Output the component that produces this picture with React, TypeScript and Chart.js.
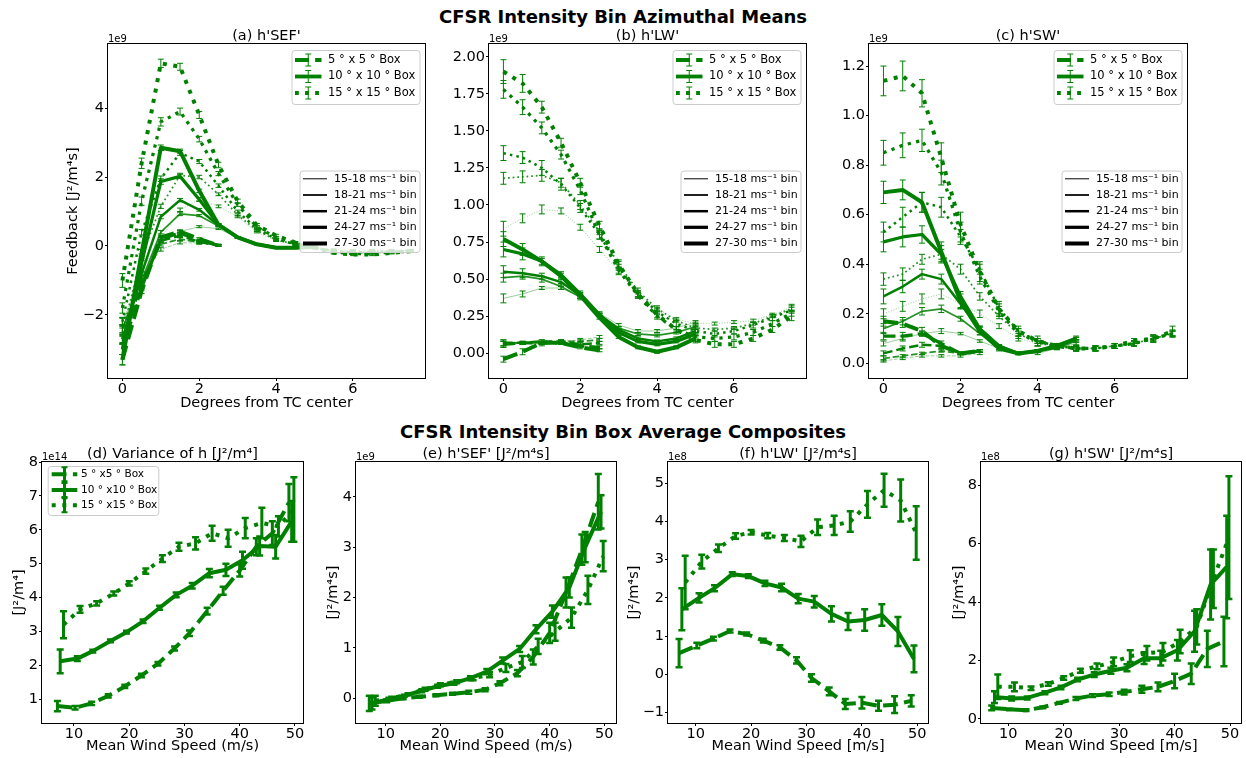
import React, { useEffect, useRef } from 'react';
import { Chart, registerables } from 'chart.js';

Chart.register(...registerables);

const FONT = 'DejaVu Sans';
const GREEN = '#008000';
const GREEN_RGB = '0,128,0';

// ---------------- shared x positions / labels ----------------
const degX5 = [0, 0.5, 1, 1.5, 2, 2.5];
const degX10 = [0, 0.5, 1, 1.5, 2, 2.5, 3, 3.5, 4, 4.5, 5];
const degX15 = [0, 0.5, 1, 1.5, 2, 2.5, 3, 3.5, 4, 4.5, 5, 5.5, 6, 6.5, 7, 7.5];

const windX5 = [7.0, 10.2, 13.2, 16.2, 19.2, 22.2, 25.2, 28.2, 30.9, 34.1, 37.0, 40.0, 43.0, 45.9, 48.9];
const windX10 = [7.5, 10.6, 13.4, 16.6, 19.5, 22.5, 25.5, 28.5, 31.4, 34.5, 37.5, 40.5, 43.6, 46.5, 49.4];
const windX15 = [8.1, 11.1, 14.1, 17.2, 20.0, 23.0, 26.0, 29.0, 32.0, 35.0, 37.9, 41.0, 44.0, 47.0, 49.8];

const binLabels = ['15-18 ms⁻¹ bin', '18-21 ms⁻¹ bin', '21-24 ms⁻¹ bin', '24-27 ms⁻¹ bin', '27-30 ms⁻¹ bin'];
const boxLabels = ['5 ° x 5 ° Box', '10 ° x 10 ° Box', '15 ° x 15 ° Box'];
const boxLabelsSmall = ['5 ° x5 ° Box', '10 ° x10 ° Box', '15 ° x15 ° Box'];

const topXTicks = [0, 2, 4, 6];
const sefYTicks = [-2, 0, 2, 4];
const lwYTicks = [0, 0.25, 0.5, 0.75, 1.0, 1.25, 1.5, 1.75, 2.0];
const swYTicks = [0, 0.2, 0.4, 0.6, 0.8, 1.0, 1.2];
const windTicks = [10, 20, 30, 40, 50];
const varYTicks = [1, 2, 3, 4, 5, 6, 7, 8];
const sefBoxYTicks = [0, 1, 2, 3, 4];
const lwBoxYTicks = [-1, 0, 1, 2, 3, 4, 5];
const swBoxYTicks = [0, 2, 4, 6, 8];

// ---------------- (a) h'SEF' azimuthal means (1e9) ----------------
const sef5Vals = [
  [-2.2, -0.9, -0.1, 0.1, 0.08, 0.02],
  [-2.4, -1.0, 0.05, 0.2, 0.1, 0.02],
  [-2.7, -1.1, 0.15, 0.3, 0.12, 0.02],
  [-3.0, -1.2, 0.2, 0.38, 0.15, 0.02],
  [-3.3, -1.3, 0.25, 0.42, 0.2, 0.02],
];
const sef5Errs = [
  [0.12, 0.06, 0.05, 0.04, 0.03, 0.02],
  [0.12, 0.06, 0.05, 0.04, 0.03, 0.02],
  [0.14, 0.07, 0.05, 0.05, 0.03, 0.02],
  [0.15, 0.08, 0.06, 0.05, 0.04, 0.03],
  [0.15, 0.08, 0.06, 0.05, 0.04, 0.03],
];
const sef10Vals = [
  [-2.2, -1.2, 0.15, 0.42, 0.56, 0.5, 0.25, 0.05, -0.05, -0.05, -0.02],
  [-2.4, -1.0, 0.4, 0.93, 0.88, 0.58, 0.25, 0.05, -0.05, -0.05, -0.02],
  [-2.7, -0.8, 0.85, 1.33, 1.05, 0.6, 0.25, 0.05, -0.05, -0.05, -0.02],
  [-3.0, -0.5, 1.87, 2.02, 1.35, 0.62, 0.25, 0.05, -0.05, -0.05, -0.02],
  [-3.3, -0.2, 2.85, 2.75, 1.6, 0.62, 0.25, 0.05, -0.05, -0.05, -0.02],
];
const sef10Errs = [
  [0.1, 0.05, 0.04, 0.03, 0.03, 0.02, 0.02, 0.01, 0.01, 0.01, 0.01],
  [0.12, 0.06, 0.05, 0.05, 0.03, 0.02, 0.02, 0.01, 0.01, 0.01, 0.01],
  [0.13, 0.07, 0.06, 0.05, 0.04, 0.03, 0.02, 0.01, 0.01, 0.01, 0.01],
  [0.15, 0.08, 0.08, 0.06, 0.05, 0.03, 0.02, 0.01, 0.01, 0.01, 0.01],
  [0.15, 0.1, 0.08, 0.06, 0.05, 0.03, 0.02, 0.01, 0.01, 0.01, 0.01],
];
const sef15Vals = [
  [-2.7, -0.7, 0.2, 1.05, 1.35, 1.15, 0.85, 0.4, 0.15, 0.03, -0.05, -0.1, -0.12, -0.12, -0.12, -0.12],
  [-2.5, -0.3, 1.15, 2.05, 2.0, 1.5, 0.9, 0.45, 0.18, 0.05, -0.05, -0.12, -0.15, -0.15, -0.14, -0.13],
  [-2.2, 0.4, 1.95, 2.7, 2.45, 1.75, 1.0, 0.5, 0.2, 0.05, -0.05, -0.15, -0.18, -0.18, -0.16, -0.14],
  [-1.8, 1.3, 3.6, 3.9, 3.1, 2.1, 1.2, 0.55, 0.25, 0.08, -0.05, -0.18, -0.22, -0.22, -0.18, -0.15],
  [-1.0, 2.4, 5.3, 5.2, 3.8, 2.35, 1.3, 0.6, 0.3, 0.1, -0.05, -0.2, -0.25, -0.25, -0.2, -0.15],
];
const sef15Errs = [
  [0.1, 0.06, 0.05, 0.05, 0.05, 0.04, 0.03, 0.02, 0.02, 0.02, 0.02, 0.02, 0.02, 0.02, 0.02, 0.02],
  [0.12, 0.07, 0.06, 0.06, 0.05, 0.04, 0.03, 0.02, 0.02, 0.02, 0.02, 0.02, 0.02, 0.02, 0.02, 0.02],
  [0.13, 0.08, 0.08, 0.07, 0.06, 0.05, 0.04, 0.03, 0.02, 0.02, 0.02, 0.02, 0.02, 0.02, 0.02, 0.02],
  [0.15, 0.12, 0.12, 0.1, 0.08, 0.06, 0.05, 0.04, 0.03, 0.02, 0.02, 0.02, 0.02, 0.02, 0.02, 0.02],
  [0.2, 0.15, 0.12, 0.1, 0.1, 0.08, 0.06, 0.05, 0.04, 0.03, 0.03, 0.03, 0.03, 0.03, 0.03, 0.03],
];

// ---------------- (b) h'LW' azimuthal means (1e9) ----------------
const lw5Vals = [
  [0.06, 0.07, 0.07, 0.08, 0.09, 0.11],
  [0.07, 0.07, 0.07, 0.08, 0.08, 0.09],
  [0.07, 0.07, 0.08, 0.08, 0.06, 0.07],
  [0.06, 0.07, 0.07, 0.07, 0.05, 0.04],
  [-0.04, 0.01, 0.07, 0.07, 0.04, 0.02],
];
const lw5Errs = [
  [0.02, 0.01, 0.01, 0.01, 0.01, 0.01],
  [0.02, 0.01, 0.01, 0.01, 0.01, 0.01],
  [0.02, 0.01, 0.01, 0.01, 0.01, 0.01],
  [0.02, 0.01, 0.01, 0.01, 0.01, 0.01],
  [0.02, 0.02, 0.02, 0.01, 0.01, 0.01],
];
const lw10Vals = [
  [0.37, 0.40, 0.44, 0.44, 0.38, 0.27, 0.19, 0.15, 0.15, 0.17, 0.21],
  [0.51, 0.52, 0.50, 0.45, 0.38, 0.26, 0.17, 0.13, 0.12, 0.14, 0.18],
  [0.55, 0.54, 0.52, 0.48, 0.39, 0.26, 0.16, 0.10, 0.08, 0.10, 0.15],
  [0.70, 0.67, 0.62, 0.53, 0.40, 0.26, 0.14, 0.08, 0.06, 0.08, 0.13],
  [0.77, 0.70, 0.62, 0.52, 0.39, 0.24, 0.11, 0.04, 0.01, 0.04, 0.10],
];
const lw10Errs = [
  [0.03, 0.02, 0.01, 0.01, 0.02, 0.01, 0.01, 0.01, 0.01, 0.01, 0.01],
  [0.03, 0.02, 0.02, 0.02, 0.01, 0.01, 0.01, 0.01, 0.01, 0.01, 0.01],
  [0.04, 0.03, 0.02, 0.02, 0.01, 0.01, 0.01, 0.01, 0.01, 0.01, 0.01],
  [0.05, 0.04, 0.02, 0.02, 0.02, 0.01, 0.01, 0.01, 0.01, 0.01, 0.01],
  [0.05, 0.04, 0.03, 0.02, 0.02, 0.01, 0.01, 0.01, 0.01, 0.01, 0.02],
];
const lw15Vals = [
  [0.84, 0.91, 0.97, 0.96, 0.85, 0.70, 0.55, 0.40, 0.30, 0.23, 0.20, 0.20, 0.21, 0.22, 0.26, 0.31],
  [1.18, 1.19, 1.20, 1.15, 1.00, 0.82, 0.60, 0.42, 0.30, 0.22, 0.17, 0.16, 0.17, 0.20, 0.25, 0.30],
  [1.35, 1.32, 1.25, 1.14, 0.98, 0.80, 0.58, 0.40, 0.28, 0.20, 0.15, 0.13, 0.15, 0.19, 0.24, 0.29],
  [1.78, 1.66, 1.52, 1.34, 1.10, 0.80, 0.56, 0.39, 0.25, 0.16, 0.11, 0.10, 0.11, 0.14, 0.20, 0.27],
  [1.90, 1.82, 1.66, 1.42, 1.15, 0.86, 0.60, 0.40, 0.26, 0.16, 0.09, 0.06, 0.06, 0.10, 0.16, 0.25],
];
const lw15Errs = [
  [0.05, 0.03, 0.03, 0.02, 0.02, 0.02, 0.02, 0.02, 0.02, 0.01, 0.01, 0.01, 0.01, 0.01, 0.01, 0.02],
  [0.04, 0.04, 0.04, 0.03, 0.03, 0.02, 0.02, 0.02, 0.01, 0.01, 0.01, 0.01, 0.01, 0.01, 0.01, 0.02],
  [0.05, 0.04, 0.05, 0.04, 0.03, 0.03, 0.02, 0.02, 0.02, 0.02, 0.02, 0.02, 0.02, 0.02, 0.02, 0.02],
  [0.06, 0.05, 0.04, 0.03, 0.03, 0.03, 0.02, 0.02, 0.02, 0.02, 0.02, 0.02, 0.02, 0.02, 0.02, 0.02],
  [0.08, 0.06, 0.04, 0.03, 0.03, 0.03, 0.03, 0.02, 0.02, 0.02, 0.02, 0.02, 0.02, 0.02, 0.02, 0.03],
];

// ---------------- (c) h'SW' azimuthal means (1e9) ----------------
const sw5Vals = [
  [0.01, 0.02, 0.03, 0.03, 0.03, 0.04],
  [0.02, 0.03, 0.04, 0.05, 0.04, 0.05],
  [0.04, 0.06, 0.075, 0.07, 0.04, 0.05],
  [0.11, 0.11, 0.12, 0.08, 0.04, 0.05],
  [0.17, 0.16, 0.13, 0.07, 0.04, 0.05],
];
const sw5Errs = [
  [0.005, 0.005, 0.005, 0.005, 0.005, 0.005],
  [0.01, 0.005, 0.005, 0.005, 0.005, 0.005],
  [0.01, 0.01, 0.01, 0.005, 0.005, 0.005],
  [0.015, 0.015, 0.01, 0.01, 0.005, 0.005],
  [0.02, 0.015, 0.015, 0.01, 0.005, 0.005],
];
const sw10Vals = [
  [0.08, 0.10, 0.12, 0.13, 0.12, 0.09, 0.06, 0.04, 0.04, 0.06, 0.08],
  [0.14, 0.17, 0.21, 0.22, 0.18, 0.12, 0.06, 0.04, 0.05, 0.06, 0.09],
  [0.27, 0.31, 0.36, 0.34, 0.24, 0.14, 0.07, 0.04, 0.05, 0.07, 0.10],
  [0.49, 0.51, 0.52, 0.44, 0.27, 0.14, 0.07, 0.04, 0.05, 0.07, 0.10],
  [0.69, 0.70, 0.65, 0.45, 0.25, 0.13, 0.06, 0.04, 0.05, 0.07, 0.10],
];
const sw10Errs = [
  [0.01, 0.01, 0.01, 0.01, 0.005, 0.005, 0.005, 0.005, 0.005, 0.005, 0.005],
  [0.02, 0.015, 0.015, 0.015, 0.01, 0.005, 0.005, 0.005, 0.005, 0.005, 0.005],
  [0.03, 0.025, 0.02, 0.02, 0.015, 0.01, 0.005, 0.005, 0.005, 0.005, 0.005],
  [0.04, 0.04, 0.035, 0.035, 0.02, 0.01, 0.005, 0.005, 0.005, 0.005, 0.005],
  [0.045, 0.04, 0.04, 0.04, 0.03, 0.015, 0.01, 0.005, 0.005, 0.005, 0.01],
];
const sw15Vals = [
  [0.20, 0.23, 0.26, 0.28, 0.24, 0.20, 0.15, 0.10, 0.08, 0.07, 0.06, 0.06, 0.07, 0.08, 0.10, 0.12],
  [0.34, 0.36, 0.42, 0.44, 0.38, 0.27, 0.19, 0.12, 0.08, 0.07, 0.06, 0.06, 0.07, 0.08, 0.10, 0.12],
  [0.53, 0.59, 0.65, 0.63, 0.51, 0.38, 0.22, 0.13, 0.09, 0.07, 0.06, 0.06, 0.07, 0.08, 0.10, 0.12],
  [0.85, 0.88, 0.90, 0.77, 0.53, 0.35, 0.21, 0.12, 0.09, 0.07, 0.06, 0.06, 0.07, 0.08, 0.10, 0.12],
  [1.14, 1.16, 1.09, 0.83, 0.56, 0.37, 0.22, 0.13, 0.09, 0.07, 0.06, 0.06, 0.07, 0.09, 0.10, 0.13],
];
const sw15Errs = [
  [0.02, 0.02, 0.02, 0.02, 0.02, 0.015, 0.01, 0.01, 0.01, 0.01, 0.01, 0.01, 0.01, 0.01, 0.01, 0.01],
  [0.025, 0.025, 0.02, 0.02, 0.02, 0.015, 0.01, 0.01, 0.01, 0.01, 0.01, 0.01, 0.01, 0.01, 0.01, 0.01],
  [0.04, 0.04, 0.04, 0.04, 0.03, 0.02, 0.02, 0.01, 0.01, 0.01, 0.01, 0.01, 0.01, 0.01, 0.01, 0.01],
  [0.05, 0.05, 0.045, 0.05, 0.04, 0.03, 0.02, 0.02, 0.01, 0.01, 0.01, 0.01, 0.01, 0.01, 0.015, 0.015],
  [0.06, 0.06, 0.055, 0.06, 0.05, 0.04, 0.03, 0.02, 0.02, 0.01, 0.01, 0.01, 0.01, 0.01, 0.015, 0.02],
];

// ---------------- (d) variance of h (1e14) ----------------
const var5 = [0.8, 0.75, 0.88, 1.1, 1.38, 1.7, 2.05, 2.5, 2.95, 3.6, 4.2, 4.8, 5.5, 5.9, 6.8];
const var5Err = [0.15, 0.05, 0.05, 0.05, 0.05, 0.05, 0.05, 0.06, 0.08, 0.1, 0.12, 0.18, 0.25, 0.35, 0.55];
const var10 = [2.12, 2.2, 2.42, 2.72, 2.98, 3.3, 3.7, 4.08, 4.35, 4.72, 4.82, 5.1, 5.52, 5.5, 6.25];
const var10Err = [0.35, 0.07, 0.04, 0.04, 0.04, 0.05, 0.06, 0.07, 0.08, 0.12, 0.18, 0.25, 0.28, 0.35, 0.6];
const var15 = [3.2, 3.65, 3.83, 4.12, 4.42, 4.78, 5.15, 5.5, 5.6, 5.9, 5.75, 6.05, 6.2, 6.1, 6.6];
const var15Err = [0.4, 0.1, 0.06, 0.06, 0.06, 0.08, 0.1, 0.12, 0.18, 0.22, 0.25, 0.3, 0.45, 0.3, 0.95];

// ---------------- (e) h'SEF' box averages (1e9) ----------------
const boxSef5 = [-0.1, -0.05, 0.0, 0.03, 0.06, 0.09, 0.12, 0.17, 0.3, 0.5, 0.82, 1.3, 2.1, 2.95, 3.9];
const boxSef5Err = [0.15, 0.03, 0.02, 0.02, 0.02, 0.02, 0.03, 0.03, 0.04, 0.06, 0.15, 0.2, 0.3, 0.3, 0.55];
const boxSef10 = [-0.1, -0.02, 0.05, 0.15, 0.24, 0.3, 0.4, 0.53, 0.75, 0.98, 1.37, 1.72, 2.2, 3.0, 3.7];
const boxSef10Err = [0.12, 0.03, 0.02, 0.03, 0.03, 0.03, 0.04, 0.05, 0.06, 0.06, 0.08, 0.12, 0.2, 0.3, 0.33];
const boxSef15 = [-0.05, 0.0, 0.08, 0.18, 0.27, 0.33, 0.4, 0.47, 0.6, 0.72, 1.03, 1.32, 1.6, 2.15, 2.82];
const boxSef15Err = [0.1, 0.03, 0.02, 0.03, 0.03, 0.03, 0.04, 0.05, 0.08, 0.12, 0.15, 0.18, 0.2, 0.28, 0.3];

// ---------------- (f) h'LW' box averages (1e8) ----------------
const boxLw5 = [0.55, 0.75, 0.93, 1.13, 1.05, 0.88, 0.7, 0.36, -0.1, -0.45, -0.78, -0.75, -0.83, -0.8, -0.7];
const boxLw5Err = [0.37, 0.07, 0.05, 0.04, 0.04, 0.05, 0.06, 0.08, 0.1, 0.1, 0.13, 0.15, 0.13, 0.22, 0.15];
const boxLw10 = [1.7, 2.0, 2.25, 2.62, 2.57, 2.38, 2.27, 1.98, 1.9, 1.58, 1.38, 1.42, 1.55, 1.12, 0.4];
const boxLw10Err = [0.55, 0.12, 0.08, 0.05, 0.05, 0.07, 0.1, 0.12, 0.15, 0.2, 0.22, 0.28, 0.28, 0.38, 0.35];
const boxLw15 = [2.4, 2.95, 3.3, 3.62, 3.72, 3.63, 3.57, 3.48, 3.85, 3.9, 4.0, 4.45, 4.82, 4.55, 3.7];
const boxLw15Err = [0.7, 0.18, 0.1, 0.07, 0.06, 0.07, 0.08, 0.15, 0.2, 0.25, 0.27, 0.35, 0.43, 0.55, 0.7];

// ---------------- (g) h'SW' box averages (1e8) ----------------
const boxSw5 = [0.38, 0.33, 0.3, 0.4, 0.55, 0.7, 0.8, 0.85, 0.92, 1.02, 1.1, 1.3, 1.55, 2.4, 2.65];
const boxSw5Err = [0.08, 0.03, 0.03, 0.03, 0.03, 0.05, 0.05, 0.06, 0.08, 0.12, 0.15, 0.25, 0.35, 0.62, 0.85];
const boxSw10 = [0.75, 0.7, 0.72, 0.9, 1.08, 1.35, 1.52, 1.65, 1.75, 2.08, 2.08, 2.35, 3.0, 4.6, 5.2];
const boxSw10Err = [0.2, 0.07, 0.05, 0.05, 0.06, 0.06, 0.08, 0.1, 0.12, 0.2, 0.25, 0.35, 0.7, 1.2, 1.75];
const boxSw15 = [1.1, 1.1, 1.05, 1.2, 1.4, 1.65, 1.8, 1.95, 2.15, 2.25, 2.3, 2.65, 3.15, 4.8, 6.2];
const boxSw15Err = [0.42, 0.15, 0.06, 0.06, 0.06, 0.07, 0.1, 0.15, 0.2, 0.25, 0.3, 0.4, 0.6, 1.0, 2.1];

// ---------------- styles ----------------
const binLineWidths = [1, 1.75, 2.5, 3.25, 4];
const binAlphas = [0.4, 0.85, 1, 1, 1];
const topErrStyle = { lw: 1, capHalf: 3, capLw: 1 };
const botErrStyle = { lw: 3, capHalf: 3.5, capLw: 2.5 };
const BOT_LW = 4;

function dashFor(style: string, lw: number) {
  if (style === 'dash') return [3.7 * lw, 1.6 * lw];
  if (style === 'dot') return [1 * lw, 1.65 * lw];
  return [];
}

function series(xs: number[], ys: number[], errs: number[], style: string, lw: number, alpha: number, err: any) {
  return {
    data: ys.map((y, i) => ({ x: xs[i], y })),
    errors: errs,
    errStyle: err,
    borderColor: `rgba(${GREEN_RGB},${alpha})`,
    backgroundColor: 'transparent',
    borderWidth: lw,
    borderDash: dashFor(style, lw),
    borderCapStyle: 'butt',
    borderJoinStyle: 'round',
    pointRadius: 0,
    pointHoverRadius: 0,
    tension: 0,
    fill: false,
    clip: 0,
  };
}

function topDatasets(v5: number[][], e5: number[][], v10: number[][], e10: number[][], v15: number[][], e15: number[][]) {
  const out: any[] = [];
  const groups: any[] = [
    [degX5, v5, e5, 'dash'],
    [degX10, v10, e10, 'solid'],
    [degX15, v15, e15, 'dot'],
  ];
  groups.forEach(([xs, vs, es, st]) => {
    vs.forEach((ys: number[], b: number) => {
      out.push(series(xs, ys, es[b], st, binLineWidths[b], binAlphas[b], topErrStyle));
    });
  });
  return out;
}

function botDatasets(v5: number[], e5: number[], v10: number[], e10: number[], v15: number[], e15: number[]) {
  return [
    series(windX5, v5, e5, 'dash', BOT_LW, 1, botErrStyle),
    series(windX10, v10, e10, 'solid', BOT_LW, 1, botErrStyle),
    series(windX15, v15, e15, 'dot', BOT_LW, 1, botErrStyle),
  ];
}

const fmtInt = (v: number) => (v < 0 ? '\u2212' + Math.abs(v) : String(v));
const fmt2 = (v: number) => v.toFixed(2);
const fmt1 = (v: number) => v.toFixed(1);

// ---------------- plugins ----------------
const errorBarPlugin = {
  id: 'errorBars',
  afterDatasetDraw(chart: any, args: any) {
    const ds = chart.data.datasets[args.index];
    if (!ds.errors) return;
    const { ctx, chartArea: a } = chart;
    const xs = chart.scales.x;
    const ys = chart.scales.y;
    const st = ds.errStyle;
    ctx.save();
    ctx.beginPath();
    ctx.rect(a.left, a.top, a.right - a.left, a.bottom - a.top);
    ctx.clip();
    ctx.strokeStyle = GREEN;
    ctx.setLineDash([]);
    ctx.lineCap = 'butt';
    ds.data.forEach((p: any, i: number) => {
      const e = ds.errors[i];
      if (e == null) return;
      const px = xs.getPixelForValue(p.x);
      const y1 = ys.getPixelForValue(p.y - e);
      const y2 = ys.getPixelForValue(p.y + e);
      ctx.lineWidth = st.lw;
      ctx.beginPath();
      ctx.moveTo(px, y1);
      ctx.lineTo(px, y2);
      ctx.stroke();
      ctx.lineWidth = st.capLw;
      ctx.beginPath();
      ctx.moveTo(px - st.capHalf, y1);
      ctx.lineTo(px + st.capHalf, y1);
      ctx.moveTo(px - st.capHalf, y2);
      ctx.lineTo(px + st.capHalf, y2);
      ctx.stroke();
    });
    ctx.restore();
  },
};

function drawLegendFrame(ctx: any, x: number, y: number, w: number, h: number) {
  ctx.beginPath();
  if (ctx.roundRect) ctx.roundRect(x, y, w, h, 3);
  else ctx.rect(x, y, w, h);
  ctx.fillStyle = 'rgba(255,255,255,0.8)';
  ctx.fill();
  ctx.strokeStyle = '#cccccc';
  ctx.lineWidth = 1;
  ctx.setLineDash([]);
  ctx.stroke();
}

function makeDeco(spec: any) {
  return {
    id: 'deco',
    afterDraw(chart: any) {
      const { ctx, chartArea: a } = chart;
      ctx.save();
      // axes frame
      ctx.strokeStyle = '#000';
      ctx.lineWidth = 1;
      ctx.setLineDash([]);
      ctx.strokeRect(a.left - 0.5, a.top - 0.5, a.right - a.left + 1, a.bottom - a.top + 1);
      // panel title
      ctx.fillStyle = '#000';
      ctx.font = `14.5px "${FONT}"`;
      ctx.textAlign = 'center';
      ctx.textBaseline = 'alphabetic';
      ctx.fillText(spec.title, (a.left + a.right) / 2, a.top - spec.titleGap);
      // offset text
      ctx.font = `10px "${FONT}"`;
      ctx.textAlign = 'left';
      ctx.fillText(spec.offset, a.left, a.top - 2.5);

      // box-size legend
      const L = spec.boxLegend;
      if (L) {
        const x0 = L.anchor === 'right' ? a.right - L.dx - L.w : a.left + L.dx;
        const y0 = a.top + L.dy;
        drawLegendFrame(ctx, x0 + 0.5, y0 + 0.5, L.w, L.h);
        L.labels.forEach((lab: string, i: number) => {
          const y = y0 + L.rows[i];
          ctx.strokeStyle = GREEN;
          ctx.lineCap = 'butt';
          ctx.lineWidth = L.lw;
          ctx.setLineDash(dashFor(L.styles[i], L.lw));
          ctx.beginPath();
          ctx.moveTo(x0 + L.s0, y);
          ctx.lineTo(x0 + L.s1, y);
          ctx.stroke();
          ctx.setLineDash([]);
          const cx = x0 + (L.s0 + L.s1) / 2;
          ctx.lineWidth = L.errLw;
          ctx.beginPath();
          ctx.moveTo(cx, y - L.errH);
          ctx.lineTo(cx, y + L.errH);
          ctx.stroke();
          ctx.lineWidth = L.capLw;
          ctx.beginPath();
          ctx.moveTo(cx - L.capHalf, y - L.errH);
          ctx.lineTo(cx + L.capHalf, y - L.errH);
          ctx.moveTo(cx - L.capHalf, y + L.errH);
          ctx.lineTo(cx + L.capHalf, y + L.errH);
          ctx.stroke();
          ctx.fillStyle = '#000';
          ctx.font = `${L.font}px "${FONT}"`;
          ctx.textAlign = 'left';
          ctx.textBaseline = 'middle';
          ctx.fillText(lab, x0 + L.tx, y);
        });
      }
      // bin legend
      const B = spec.binLegend;
      if (B) {
        const x0 = a.right - B.dx - B.w;
        const y0 = a.top + B.dy;
        drawLegendFrame(ctx, x0 + 0.5, y0 + 0.5, B.w, B.h);
        binLabels.forEach((lab, i) => {
          const y = y0 + B.rows[i];
          ctx.strokeStyle = '#000';
          ctx.lineWidth = binLineWidths[i];
          ctx.setLineDash([]);
          ctx.lineCap = 'butt';
          ctx.beginPath();
          ctx.moveTo(x0 + B.s0, y);
          ctx.lineTo(x0 + B.s1, y);
          ctx.stroke();
          ctx.fillStyle = '#000';
          ctx.font = `${B.font}px "${FONT}"`;
          ctx.textAlign = 'left';
          ctx.textBaseline = 'middle';
          ctx.fillText(lab, x0 + B.tx, y);
        });
      }
      ctx.restore();
    },
  };
}

// ---------------- legend layouts ----------------
const topBoxLegend = {
  anchor: 'right', dx: 5.5, dy: 6, w: 128, h: 54, rows: [10, 26.5, 43],
  s0: 3.5, s1: 30, tx: 36.5, font: 11.5, lw: 3.8, errH: 6, capHalf: 3, errLw: 1, capLw: 1,
  labels: boxLabels, styles: ['dash', 'solid', 'dot'],
};
const topBinLegend = { dx: 5.5, dy: 126.5, w: 120, h: 81.5, rows: [8.3, 24.5, 40.7, 56.8, 73], s0: 3.5, s1: 27.5, tx: 34.5, font: 11 };
const botBoxLegend = {
  anchor: 'left', dx: 5.7, dy: 4, w: 110.6, h: 49, rows: [8.3, 24, 39.3],
  s0: 4, s1: 29.6, tx: 33.3, font: 10.5, lw: 4, errH: 7, capHalf: 3, errLw: 3, capLw: 2,
  labels: boxLabelsSmall, styles: ['dash', 'solid', 'dot'],
};

// ---------------- panel specs ----------------
const TOP_X_TITLE = 'Degrees from TC center';

const specs: any[] = [
  {
    key: 'a', canvas: { left: 65, top: 20, width: 374, height: 392 }, wy: 43, hx: 34, padTop: 24, padRight: 14,
    xRange: [-0.375, 7.875], yRange: [-3.83, 5.86], xTicks: topXTicks, yTicks: sefYTicks, yFmt: fmtInt,
    yTitle: 'Feedback [J²/m⁴s]', xTitle: TOP_X_TITLE, title: "(a) h'SEF'", titleGap: 4, offset: '1e9',
    datasets: topDatasets(sef5Vals, sef5Errs, sef10Vals, sef10Errs, sef15Vals, sef15Errs),
    boxLegend: topBoxLegend, binLegend: topBinLegend,
  },
  {
    key: 'b', canvas: { left: 439, top: 20, width: 381, height: 392 }, wy: 50, hx: 34, padTop: 24, padRight: 14,
    xRange: [-0.375, 7.875], yRange: [-0.167, 2.086], xTicks: topXTicks, yTicks: lwYTicks, yFmt: fmt2,
    xTitle: TOP_X_TITLE, title: "(b) h'LW'", titleGap: 4, offset: '1e9',
    datasets: topDatasets(lw5Vals, lw5Errs, lw10Vals, lw10Errs, lw15Vals, lw15Errs),
    boxLegend: topBoxLegend, binLegend: topBinLegend,
  },
  {
    key: 'c', canvas: { left: 819, top: 20, width: 382, height: 392 }, wy: 50, hx: 34, padTop: 24, padRight: 14,
    xRange: [-0.375, 7.875], yRange: [-0.0593, 1.289], xTicks: topXTicks, yTicks: swYTicks, yFmt: fmt1,
    xTitle: TOP_X_TITLE, title: "(c) h'SW'", titleGap: 4, offset: '1e9',
    datasets: topDatasets(sw5Vals, sw5Errs, sw10Vals, sw10Errs, sw15Vals, sw15Errs),
    boxLegend: topBoxLegend, binLegend: topBinLegend,
  },
  {
    key: 'd', canvas: { left: 11, top: 436, width: 306, height: 319 }, wy: 31, hx: 32, padTop: 26, padRight: 14,
    xRange: [4.21, 51.45], yRange: [0.3, 8.0], xTicks: windTicks, yTicks: varYTicks, yFmt: fmtInt,
    yTitle: '[J²/m⁴]', xTitle: 'Mean Wind Speed (m/s)', title: '(d) Variance of h [J²/m⁴]', titleGap: 4.5, offset: '1e14',
    datasets: botDatasets(var5, var5Err, var10, var10Err, var15, var15Err),
    boxLegend: botBoxLegend,
  },
  {
    key: 'e', canvas: { left: 325, top: 436, width: 305, height: 319 }, wy: 31, hx: 32, padTop: 26, padRight: 14,
    xRange: [4.57, 52.14], yRange: [-0.49, 4.69], xTicks: windTicks, yTicks: sefBoxYTicks, yFmt: fmtInt,
    yTitle: '[J²/m⁴s]', xTitle: 'Mean Wind Speed (m/s)', title: "(e) h'SEF' [J²/m⁴s]", titleGap: 4.5, offset: '1e9',
    datasets: botDatasets(boxSef5, boxSef5Err, boxSef10, boxSef10Err, boxSef15, boxSef15Err),
  },
  {
    key: 'f', canvas: { left: 626, top: 436, width: 316, height: 319 }, wy: 42, hx: 32, padTop: 26, padRight: 14,
    xRange: [5.0, 51.93], yRange: [-1.28, 5.56], xTicks: windTicks, yTicks: lwBoxYTicks, yFmt: fmtInt,
    yTitle: '[J²/m⁴s]', xTitle: 'Mean Wind Speed [m/s]', title: "(f) h'LW' [J²/m⁴s]", titleGap: 4.5, offset: '1e8',
    datasets: botDatasets(boxLw5, boxLw5Err, boxLw10, boxLw10Err, boxLw15, boxLw15Err),
  },
  {
    key: 'g', canvas: { left: 951, top: 436, width: 304, height: 319 }, wy: 30, hx: 32, padTop: 26, padRight: 14,
    xRange: [5.07, 51.98], yRange: [-0.137, 8.79], xTicks: windTicks, yTicks: swBoxYTicks, yFmt: fmtInt,
    yTitle: '[J²/m⁴s]', xTitle: 'Mean Wind Speed [m/s]', title: "(g) h'SW' [J²/m⁴s]", titleGap: 4.5, offset: '1e8',
    datasets: botDatasets(boxSw5, boxSw5Err, boxSw10, boxSw10Err, boxSw15, boxSw15Err),
  },
];

function makeConfig(spec: any): any {
  const tickFont = { family: FONT, size: 14.5 };
  return {
    type: 'line',
    data: { datasets: spec.datasets },
    options: {
      responsive: false,
      maintainAspectRatio: false,
      animation: false,
      events: [],
      layout: { padding: { top: spec.padTop, right: spec.padRight, left: 0, bottom: 0 } },
      plugins: { legend: { display: false }, tooltip: { enabled: false }, title: { display: false } },
      scales: {
        x: {
          type: 'linear',
          min: spec.xRange[0],
          max: spec.xRange[1],
          afterBuildTicks: (s: any) => { s.ticks = spec.xTicks.map((v: number) => ({ value: v })); },
          afterFit: (s: any) => { s.height = spec.hx; },
          ticks: { font: tickFont, color: '#000', padding: 0, maxRotation: 0, autoSkip: false, callback: (v: number) => fmtInt(v) },
          grid: { drawOnChartArea: false, drawTicks: true, tickLength: 3, tickColor: '#000', tickWidth: 1 },
          border: { display: false },
          title: { display: true, text: spec.xTitle, font: tickFont, color: '#000', padding: 0 },
        },
        y: {
          type: 'linear',
          min: spec.yRange[0],
          max: spec.yRange[1],
          afterBuildTicks: (s: any) => { s.ticks = spec.yTicks.map((v: number) => ({ value: v })); },
          afterFit: (s: any) => { s.width = spec.wy; },
          ticks: { font: tickFont, color: '#000', padding: 1, autoSkip: false, callback: (v: number) => spec.yFmt(v) },
          grid: { drawOnChartArea: false, drawTicks: true, tickLength: 3, tickColor: '#000', tickWidth: 1 },
          border: { display: false },
          title: { display: !!spec.yTitle, text: spec.yTitle || '', font: tickFont, color: '#000', padding: 0 },
        },
      },
    },
    plugins: [errorBarPlugin, makeDeco(spec)],
  };
}

function ChartPanel({ spec }: { spec: any }) {
  const ref = useRef<HTMLCanvasElement | null>(null);
  useEffect(() => {
    if (!ref.current) return;
    const chart = new Chart(ref.current, makeConfig(spec));
    return () => chart.destroy();
  }, [spec]);
  const c = spec.canvas;
  return (
    <canvas
      ref={ref}
      width={c.width}
      height={c.height}
      style={{ position: 'absolute', left: c.left, top: c.top, width: c.width, height: c.height }}
    />
  );
}

const supStyle: any = {
  position: 'absolute', left: 0, width: 1246, textAlign: 'center', fontWeight: 'bold',
  fontSize: 18, lineHeight: '22px', fontFamily: FONT, color: '#000', whiteSpace: 'nowrap',
};

export default function App() {
  return (
    <div style={{ position: 'absolute', left: 0, top: 0, width: 1246, height: 758, overflow: 'hidden', background: '#fff' }}>
      <div style={{ ...supStyle, top: 6 }}>CFSR Intensity Bin Azimuthal Means</div>
      <div style={{ ...supStyle, top: 421 }}>CFSR Intensity Bin Box Average Composites</div>
      {specs.map((s) => (
        <ChartPanel key={s.key} spec={s} />
      ))}
    </div>
  );
}
